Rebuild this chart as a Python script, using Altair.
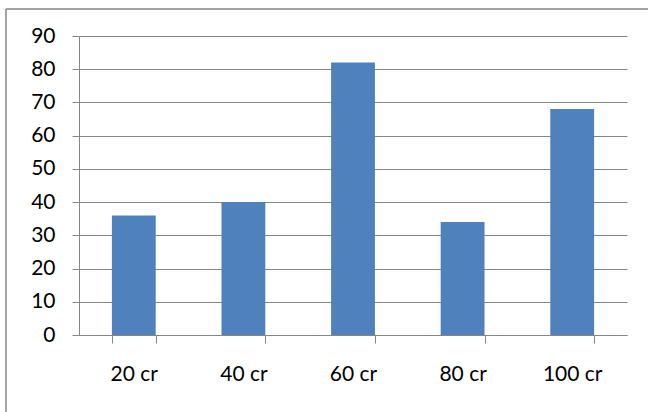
import altair as alt
import pandas as pd

categories = ["20 cr", "40 cr", "60 cr", "80 cr", "100 cr"]
values = [36, 40, 82, 34, 68]
y_ticks = [0, 10, 20, 30, 40, 50, 60, 70, 80, 90]

df = pd.DataFrame({"cat": categories, "val": values})

GRAY = "#868686"
FONT = "Lato"

bars = alt.Chart(df).mark_bar(color="#4F81BD").encode(
    x=alt.X(
        "cat:N",
        sort=categories,
        scale=alt.Scale(paddingInner=0.6, paddingOuter=0.3),
        axis=alt.Axis(
            title=None,
            labelAngle=0,
            tickBand="extent",
            tickSize=8,
            tickColor=GRAY,
            domainColor=GRAY,
            labelFont=FONT,
            labelFontSize=21,
            labelColor="#000000",
            labelPadding=31,
            labelBaseline="middle",
            grid=False,
        ),
    ),
    y=alt.Y(
        "val:Q",
        scale=alt.Scale(domain=[0, 90], nice=False),
        axis=alt.Axis(
            title=None,
            values=y_ticks,
            tickSize=7,
            tickColor=GRAY,
            domainColor=GRAY,
            gridColor=GRAY,
            labelFont=FONT,
            labelFontSize=21,
            labelColor="#000000",
            labelPadding=17,
        ),
    ),
)

one = alt.Data(values=[{"k": 1}])
top_border = alt.Chart(one).mark_rule(color=GRAY, strokeWidth=1.5).encode(
    x=alt.value(-73), x2=alt.value(620), y=alt.value(-27)
)
left_border = alt.Chart(one).mark_rule(color=GRAY, strokeWidth=1.5).encode(
    x=alt.value(-73), y=alt.value(-27), y2=alt.value(420)
)

chart = alt.layer(bars, top_border, left_border).properties(
    width=548,
    height=299,
    autosize=alt.AutoSizeParams(type="none"),
    padding={"left": 79, "top": 36, "right": 21, "bottom": 77},
    background="#ffffff",
).configure_view(stroke=None)

chart.save("out.html", embed_options={"renderer": "svg", "actions": False})
